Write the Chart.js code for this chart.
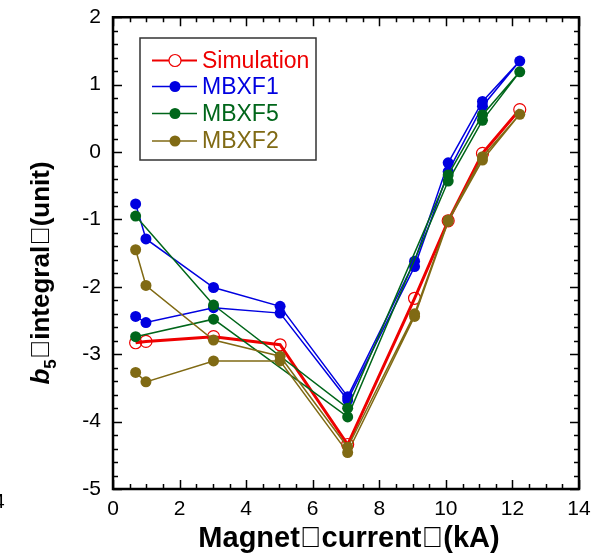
<!DOCTYPE html>
<html>
<head>
<meta charset="utf-8">
<script src="https://cdn.jsdelivr.net/npm/chart.js@4/dist/chart.umd.min.js"></script>
<style>
html,body{margin:0;padding:0;background:#fff;}
canvas{display:block;}
</style>
</head>
<body>
<canvas id="c" width="608" height="554"></canvas>
<script>
// ---- data ----
const xTitle = "Magnet\uE000current\uE000(kA)";
const yTitleMain = "b";
const yTitleSub = "5";
const yTitleRest = "\uE000integral\uE000(unit)";
const seriesNames = ["Simulation", "MBXF1", "MBXF5", "MBXF2"];

const simX = [0.68, 0.99, 3.02, 5.02, 7.05, 9.06, 10.07, 11.1, 12.22];
const simY = [-2.83, -2.81, -2.74, -2.86, -4.34, -2.17, -1.02, -0.02, 0.63];

const mbxf1X = [0.68, 0.99, 3.02, 5.02, 7.05, 9.06, 10.07, 11.1, 12.22, 11.1, 10.07, 9.06, 7.05, 5.02, 3.02, 0.99, 0.68];
const mbxf1Y = [-2.44, -2.53, -2.31, -2.39, -3.68, -1.70, -0.29, 0.68, 1.35, 0.75, -0.16, -1.62, -3.63, -2.29, -2.01, -1.29, -0.77];

const mbxf5X = [0.68, 3.02, 7.05, 10.07, 11.1, 12.22, 11.1, 10.07, 7.05, 3.02, 0.68];
const mbxf5Y = [-2.74, -2.48, -3.93, -0.43, 0.47, 1.19, 0.55, -0.34, -3.80, -2.27, -0.95];

const mbxf2X = [0.68, 0.99, 3.02, 5.02, 7.05, 9.06, 10.07, 11.1, 12.22, 11.1, 10.07, 9.06, 7.05, 5.02, 3.02, 0.99, 0.68];
const mbxf2Y = [-3.27, -3.41, -3.10, -3.10, -4.46, -2.44, -1.03, -0.12, 0.56, -0.07, -1.01, -2.40, -4.38, -3.03, -2.79, -1.98, -1.45];

const xTicks = [0, 2, 4, 6, 8, 10, 12, 14];
const yTicks = [-5, -4, -3, -2, -1, 0, 1, 2];

// ---- styles ----
const colors = ["#ee0000", "#0000e0", "#00661a", "#806a14"];
const FONT = "'Liberation Sans', Arial, sans-serif";

function pts(xs, ys) { return xs.map((x, i) => ({ x: x, y: ys[i] })); }

const datasets = [
  { label: seriesNames[0], data: pts(simX, simY), borderColor: colors[0], backgroundColor: "rgba(0,0,0,0)",
    pointBorderColor: colors[0], pointBackgroundColor: "rgba(0,0,0,0)", pointRadius: 6, pointBorderWidth: 1.2,
    borderWidth: 3, showLine: true, order: 4 },
  { label: seriesNames[1], data: pts(mbxf1X, mbxf1Y), borderColor: colors[1], backgroundColor: colors[1],
    pointBorderColor: colors[1], pointBackgroundColor: colors[1], pointRadius: 5.5, pointBorderWidth: 0,
    borderWidth: 1.5, showLine: true, order: 3 },
  { label: seriesNames[2], data: pts(mbxf5X, mbxf5Y), borderColor: colors[2], backgroundColor: colors[2],
    pointBorderColor: colors[2], pointBackgroundColor: colors[2], pointRadius: 5.5, pointBorderWidth: 0,
    borderWidth: 1.5, showLine: true, order: 2 },
  { label: seriesNames[3], data: pts(mbxf2X, mbxf2Y), borderColor: colors[3], backgroundColor: colors[3],
    pointBorderColor: colors[3], pointBackgroundColor: colors[3], pointRadius: 5.5, pointBorderWidth: 0,
    borderWidth: 1.5, showLine: true, order: 1 }
];

const decor = {
  id: "decor",
  afterDatasetsDraw(chart) {
    const ctx = chart.ctx, a = chart.chartArea, xs = chart.scales.x, ys = chart.scales.y;
    ctx.save();
    ctx.strokeStyle = "#000";
    ctx.lineWidth = 1.5;
    ctx.beginPath();
    for (let i = yTicks[0] * 5; i <= yTicks[yTicks.length - 1] * 5; i++) {
      const v = i / 5, p = Math.round(ys.getPixelForValue(v)) + 0.5;
      const len = (i % 5 === 0) ? 9 : 5;
      ctx.moveTo(a.left, p); ctx.lineTo(a.left + len, p);
      ctx.moveTo(a.right, p); ctx.lineTo(a.right - len, p);
    }
    for (let i = 0; i <= xTicks[xTicks.length - 1] * 2; i++) {
      const v = i / 2, p = Math.round(xs.getPixelForValue(v)) + 0.5;
      const len = (i % 4 === 0) ? 9 : 5;
      ctx.moveTo(p, a.bottom); ctx.lineTo(p, a.bottom - len);
      ctx.moveTo(p, a.top); ctx.lineTo(p, a.top + len);
    }
    ctx.stroke();
    ctx.lineWidth = 2.5;
    ctx.strokeRect(a.left, a.top, a.right - a.left, a.bottom - a.top);
    ctx.restore();
  },
  afterDraw(chart) {
    const ctx = chart.ctx, a = chart.chartArea;
    ctx.save();
    // legend
    const lx = 140, ly = 38, lw = 176, lh = 122;
    ctx.fillStyle = "#fff";
    ctx.fillRect(lx, ly, lw, lh);
    ctx.strokeStyle = "#333";
    ctx.lineWidth = 1.5;
    ctx.strokeRect(lx, ly, lw, lh);
    const rows = [60.5, 86.5, 113.5, 141];
    chart.data.datasets.forEach((ds, i) => {
      const y = rows[i];
      ctx.strokeStyle = ds.borderColor;
      ctx.lineWidth = i === 0 ? 2 : 1.5;
      ctx.beginPath(); ctx.moveTo(152, y); ctx.lineTo(197, y); ctx.stroke();
      ctx.beginPath(); ctx.arc(175, y, i === 0 ? 6 : 5.5, 0, Math.PI * 2);
      if (i === 0) { ctx.fillStyle = "#fff"; ctx.fill(); ctx.lineWidth = 1.2; ctx.stroke(); }
      else { ctx.fillStyle = ds.borderColor; ctx.fill(); }
      ctx.fillStyle = ds.borderColor;
      ctx.font = "23px " + FONT;
      ctx.textAlign = "left"; ctx.textBaseline = "middle";
      ctx.fillText(ds.label, 202, y + 1);
    });
    // x title
    ctx.fillStyle = "#000";
    ctx.font = "bold 29px " + FONT;
    ctx.textAlign = "center"; ctx.textBaseline = "alphabetic";
    ctx.fillText(xTitle, 349, 547);
    // y title (rotated)
    ctx.translate(49, 273);
    ctx.rotate(-Math.PI / 2);
    const fMain = "italic bold 26px " + FONT, fSub = "bold 17px " + FONT, fRest = "bold 26px " + FONT;
    ctx.font = fMain; const w1 = ctx.measureText(yTitleMain).width;
    ctx.font = fSub; const w2 = ctx.measureText(yTitleSub).width;
    ctx.font = fRest; const w3 = ctx.measureText(yTitleRest).width;
    let x0 = -(w1 + w2 + w3) / 2;
    ctx.textAlign = "left";
    ctx.font = fMain; ctx.fillText(yTitleMain, x0, 0); x0 += w1;
    ctx.font = fSub; ctx.fillText(yTitleSub, x0, 7); x0 += w2;
    ctx.font = fRest; ctx.fillText(yTitleRest, x0, 0);
    ctx.restore();
    // stray label at the left edge (from neighbouring figure)
    ctx.save();
    ctx.fillStyle = "#000";
    ctx.font = "21px " + FONT;
    ctx.textAlign = "left"; ctx.textBaseline = "alphabetic";
    ctx.fillText("4", -7, 508);
    ctx.restore();
  }
};

new Chart(document.getElementById("c"), {
  type: "scatter",
  data: { datasets: datasets },
  options: {
    responsive: false,
    animation: false,
    devicePixelRatio: 1,
    layout: { padding: { top: 17, right: 29, left: 0, bottom: 0 } },
    plugins: { legend: { display: false }, tooltip: { enabled: false } },
    elements: { line: { tension: 0 } },
    scales: {
      x: {
        type: "linear", min: xTicks[0], max: xTicks[xTicks.length - 1],
        afterBuildTicks: (s) => { s.ticks = xTicks.map(v => ({ value: v })); },
        grid: { display: false, drawTicks: false }, border: { display: false },
        ticks: { color: "#000", font: { family: FONT, size: 21 }, padding: 8, maxRotation: 0 },
        afterFit: (s) => { s.height = 65; }
      },
      y: {
        type: "linear", min: yTicks[0], max: yTicks[yTicks.length - 1],
        afterBuildTicks: (s) => { s.ticks = yTicks.map(v => ({ value: v })); },
        grid: { display: false, drawTicks: false }, border: { display: false },
        ticks: { color: "#000", font: { family: FONT, size: 21, lineHeight: 0.5 }, padding: 12 },
        afterFit: (s) => { s.width = 113; }
      }
    }
  },
  plugins: [decor]
});
</script>
</body>
</html>
